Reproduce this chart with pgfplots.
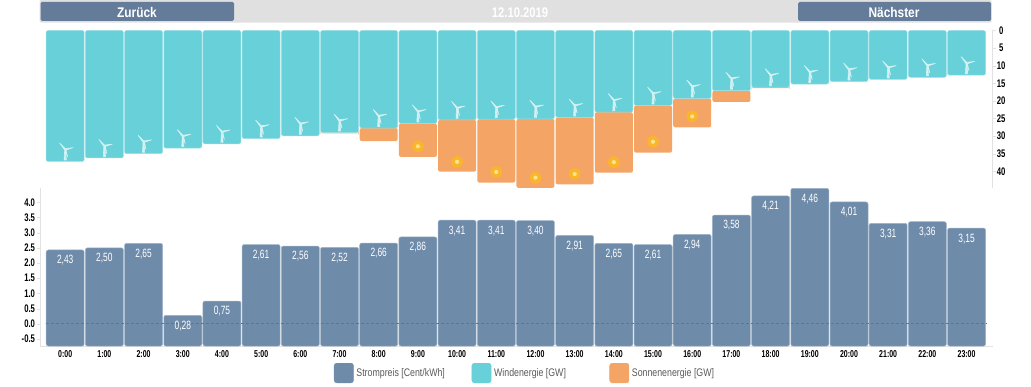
\documentclass[border=0pt]{standalone}
\usepackage{pgfplots}
\usepackage{pgfplotstable}
\usepackage{fontspec}
\pgfplotsset{compat=1.18}
\setmainfont[FakeStretch=0.7]{Liberation Sans}
\newfontfamily\navfont[FakeStretch=0.85]{Liberation Sans}
\newfontfamily\legfont[FakeStretch=0.8]{Liberation Sans}
\definecolor{price}{HTML}{6F8BAA}
\definecolor{btn}{HTML}{647C9A}
\definecolor{wind}{HTML}{67D0D8}
\definecolor{sun}{HTML}{F4A566}
\definecolor{spine}{HTML}{E2E2E2}
\definecolor{navgrey}{HTML}{E0E0E0}
\pgfplotstableread{
h wind solar
0 37.2 0
1 36.2 0
2 35.0 0
3 33.4 0
4 32.2 0
5 30.7 0
6 29.9 0
7 29.0 0.2
8 27.7 3.7
9 26.4 9.5
10 25.4 14.7
11 25.2 18.0
12 25.1 19.6
13 24.7 19.0
14 23.2 17.2
15 21.3 13.4
16 19.3 8.2
17 17.1 3.2
18 16.1 0.3
19 15.2 0
20 14.5 0
21 13.9 0
22 13.3 0
23 12.7 0
}\energy
\pgfplotstableread{
h turb
0 33.8
1 32.8
2 31.6
3 30.0
4 28.8
5 27.3
6 26.5
7 25.6
8 24.3
9 23.0
10 22.0
11 21.8
12 21.7
13 21.3
14 19.8
15 17.9
16 15.9
17 13.7
18 12.7
19 11.8
20 11.1
21 10.5
22 9.9
23 9.3
}\turbines
\pgfplotstableread{
h icon
9 32.9
10 37.3
11 40.2
12 41.8
13 40.8
14 37.4
15 31.6
16 24.4
}\suns
\pgfplotstableread{
h v
0 2.43
1 2.50
2 2.65
3 0.28
4 0.75
5 2.61
6 2.56
7 2.52
8 2.66
9 2.86
10 3.41
11 3.41
12 3.40
13 2.91
14 2.65
15 2.61
16 2.94
17 3.58
18 4.21
19 4.46
20 4.01
21 3.31
22 3.36
23 3.15
}\prices
\pgfdeclareplotmark{turbine}{%
  \pgfsetfillcolor{white!70!wind}\pgfsetstrokecolor{white!70!wind}%
  \pgfsetlinewidth{0.6pt}\pgfsetroundjoin
  \pgfpathmoveto{\pgfqpoint{-1.1pt}{-10.5pt}}\pgfpathlineto{\pgfqpoint{1.1pt}{-10.5pt}}\pgfpathlineto{\pgfqpoint{0.5pt}{0pt}}\pgfpathlineto{\pgfqpoint{-0.5pt}{0pt}}\pgfpathclose\pgfusepath{fill,stroke}%
  \pgfpathmoveto{\pgfqpoint{0.6pt}{0.4pt}}\pgfpathlineto{\pgfqpoint{-5.5pt}{6.5pt}}\pgfpathlineto{\pgfqpoint{-0.6pt}{-0.4pt}}\pgfpathclose\pgfusepath{fill,stroke}%
  \pgfpathmoveto{\pgfqpoint{0pt}{0.8pt}}\pgfpathlineto{\pgfqpoint{8pt}{1.9pt}}\pgfpathlineto{\pgfqpoint{0pt}{-0.8pt}}\pgfpathclose\pgfusepath{fill,stroke}%
  \pgfpathmoveto{\pgfqpoint{-0.4pt}{0pt}}\pgfpathlineto{\pgfqpoint{2.4pt}{-7.5pt}}\pgfpathlineto{\pgfqpoint{0.8pt}{0pt}}\pgfpathclose\pgfusepath{fill,stroke}%
}
\definecolor{sunring}{HTML}{FBB52C}
\definecolor{suncore}{HTML}{FDE58E}
\pgfdeclareplotmark{sunicon}{%
  \pgfsetfillcolor{sunring}\pgfpathcircle{\pgfpointorigin}{5.8pt}\pgfusepath{fill}%
  \pgfsetfillcolor{suncore}\pgfpathcircle{\pgfpointorigin}{2.1pt}\pgfusepath{fill}%
}
\begin{document}
\begin{tikzpicture}
\path[use as bounding box] (0,0) rectangle (1031pt,386pt);
% navigation strip
\fill[navgrey,rounded corners=1.5pt] (39.5pt,363.3pt) rectangle (991.7pt,386pt);
\fill[btn,rounded corners=1.5pt] (40.5pt,365pt) rectangle (234pt,384pt);
\fill[btn,rounded corners=1.5pt] (798pt,365pt) rectangle (991pt,384pt);
\node[text=white,font=\navfont\fontsize{14}{14}\selectfont\bfseries] at (137pt,373.8pt) {Zurück};
\node[text=white,font=\navfont\fontsize{14}{14}\selectfont\bfseries] at (894pt,373.8pt) {Nächster};
\node[text=white,font=\legfont\fontsize{14}{14}\selectfont\bfseries] at (520pt,373.8pt) {12.10.2019};
% energy
\begin{axis}[
  at={(40pt,198pt)},anchor=south west,
  scale only axis,width=952.7pt,height=157.5pt,
  clip=false,
  xmin=-0.643,xmax=23.667,
  ymin=0,ymax=44.74,y dir=reverse,
  axis x line=none,axis y line*=right,
  axis line style={draw=spine,line width=0.8pt},
  ytick={0,5,...,40},
  tick align=outside,major tick length=3pt,
  y tick style={draw=spine},
  y tick label style={font=\fontsize{11}{11}\selectfont\bfseries,text=black,/pgf/number format/assume math mode=true,anchor=center,xshift=5.5pt},
  ybar stacked,bar width=38pt,
]
\addplot[fill=wind,draw=white!35!wind,line width=0.5pt,rounded corners=2pt] table[x=h,y=wind]{\energy};
\addplot[fill=sun,draw=none,rounded corners=2pt] table[x=h,y=solar]{\energy};
\end{axis}
\begin{axis}[
  at={(40pt,198pt)},anchor=south west,
  scale only axis,width=952.7pt,height=157.5pt,
  clip=false,hide axis,
  xmin=-0.643,xmax=23.667,
  ymin=0,ymax=44.74,y dir=reverse,
]
\addplot[only marks,mark=turbine] table[x=h,y=turb]{\turbines};
\addplot[only marks,mark=sunicon] table[x=h,y=icon]{\suns};
\end{axis}
% price
\begin{axis}[
  at={(40pt,40pt)},anchor=south west,
  scale only axis,width=952.7pt,height=158pt,
  clip=false,
  xmin=-0.643,xmax=23.667,
  ymin=-0.73,ymax=4.47,
  y coord trafo/.code={\pgfmathparse{#1+0.73}},
  y coord inv trafo/.code={\pgfmathparse{#1-0.73}},
  axis x line*=bottom,axis y line*=left,
  axis line style={draw=spine,line width=0.8pt},
  xtick={0,...,23},
  xticklabels={0:00,1:00,2:00,3:00,4:00,5:00,6:00,7:00,8:00,9:00,10:00,11:00,12:00,13:00,14:00,15:00,16:00,17:00,18:00,19:00,20:00,21:00,22:00,23:00},
  x tick style={draw=none},
  x tick label style={font=\fontsize{10}{10}\selectfont\bfseries,text=black,anchor=center,yshift=-5.5pt},
  ytick={-0.5,0,0.5,1,1.5,2,2.5,3,3.5,4},
  yticklabels={-0.5,0.0,0.5,1.0,1.5,2.0,2.5,3.0,3.5,4.0},
  tick align=outside,major tick length=3pt,
  y tick style={draw=spine},
  y tick label style={font=\fontsize{11}{11}\selectfont\bfseries,text=black,anchor=east,xshift=1.5pt},
  legend columns=3,
  legend style={at={(0.3086,-0.171)},anchor=west,draw=none,fill=none,inner sep=0pt,outer sep=0pt,
    font=\legfont\fontsize{11}{11}\selectfont,text=black!65,
    nodes={inner sep=0pt,outer sep=0pt},
    /tikz/every odd column/.style={column sep=2.7pt}},
]
\addlegendimage{legend image code/.code={\fill[price,rounded corners=2.5pt] (0pt,-9.8pt) rectangle (19.3pt,9.8pt);}}
\addlegendentry{\makebox[115.3pt][l]{Strompreis [Cent/kWh]}}
\addlegendimage{legend image code/.code={\fill[wind,rounded corners=2.5pt] (0pt,-9.8pt) rectangle (19.3pt,9.8pt);}}
\addlegendentry{\makebox[115.4pt][l]{Windenergie [GW]}}
\addlegendimage{legend image code/.code={\fill[sun,rounded corners=2.5pt] (0pt,-9.8pt) rectangle (19.3pt,9.8pt);}}
\addlegendentry{\makebox[80pt][l]{Sonnenenergie [GW]}}
\addplot[forget plot,ybar,bar width=38pt,bar shift=0pt,fill=price,draw=white!35!price,line width=0.5pt,rounded corners=2pt,
  point meta=\thisrow{v},
  nodes near coords={\pgfmathprintnumber[fixed,fixed zerofill,precision=2,use comma,assume math mode=true]{\pgfplotspointmeta}},
  every node near coord/.append style={font=\fontsize{12}{12}\selectfont,text=white,anchor=center,yshift=-10.5pt}]
  table[x=h,y=v]{\prices};
\addplot[forget plot,densely dashed,draw=price!85!black,line width=0.8pt] coordinates {(-0.5,0) (23.5,0)};
\end{axis}
\end{tikzpicture}
\end{document}
